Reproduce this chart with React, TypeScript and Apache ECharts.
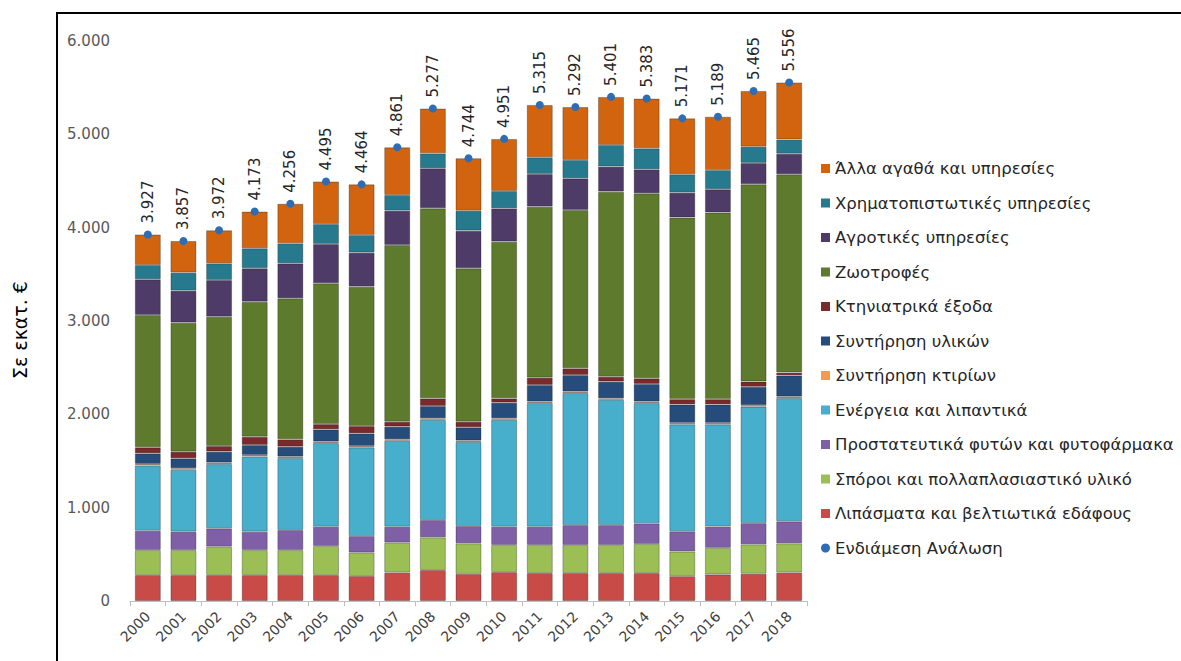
import React, { useEffect, useRef } from "react";
import * as echarts from "echarts";

const years = ["2000","2001","2002","2003","2004","2005","2006","2007","2008","2009","2010","2011","2012","2013","2014","2015","2016","2017","2018"];

const fertilizers = [279, 279, 279, 279, 279, 279, 268, 304, 332, 290, 310, 300, 300, 300, 300, 266, 285, 292, 304];
const seeds = [267, 267, 303, 267, 267, 310, 250, 321, 350, 328, 290, 300, 300, 300, 311, 265, 284, 315, 314];
const protection = [207, 197, 197, 197, 215, 207, 178, 171, 186, 186, 196, 196, 214, 214, 221, 216, 228, 228, 236];
const energy = [700, 664, 688, 806, 770, 896, 950, 921, 1074, 899, 1146, 1325, 1414, 1342, 1289, 1146, 1096, 1248, 1320];
const buildings = [15, 15, 15, 15, 15, 15, 15, 15, 15, 15, 15, 15, 15, 15, 15, 15, 15, 15, 15];
const materials = [114, 107, 118, 107, 107, 132, 135, 136, 132, 143, 168, 178, 178, 179, 189, 198, 198, 197, 228];
const veterinary = [65, 71, 61, 90, 79, 57, 79, 53, 82, 60, 46, 79, 72, 53, 61, 57, 57, 57, 30];
const feed = [1417, 1382, 1385, 1446, 1511, 1508, 1493, 1893, 2036, 1643, 1679, 1832, 1696, 1983, 1982, 1946, 1999, 2114, 2125];
const agriServices = [383, 343, 393, 357, 375, 421, 364, 368, 429, 404, 357, 350, 340, 268, 257, 266, 250, 227, 220];
const financial = [153, 193, 179, 215, 214, 214, 189, 168, 160, 214, 186, 179, 196, 232, 225, 197, 205, 175, 152];
const other = [327, 339, 354, 394, 424, 456, 543, 511, 481, 562, 558, 561, 567, 515, 533, 599, 572, 597, 612];
const totals = [3927, 3857, 3972, 4173, 4256, 4495, 4464, 4861, 5277, 4744, 4951, 5315, 5292, 5401, 5383, 5171, 5189, 5465, 5556];

const yTicks = [0, 1000, 2000, 3000, 4000, 5000, 6000];

const barSeries = [
  { name: "Λιπάσματα και βελτιωτικά εδάφους", data: fertilizers, color: "#C94B48" },
  { name: "Σπόροι και πολλαπλασιαστικό υλικό", data: seeds, color: "#9BBF55" },
  { name: "Προστατευτικά φυτών και φυτοφάρμακα", data: protection, color: "#7F60A6" },
  { name: "Ενέργεια και λιπαντικά", data: energy, color: "#47AECC" },
  { name: "Συντήρηση κτιρίων", data: buildings, color: "#F39A55" },
  { name: "Συντήρηση υλικών", data: materials, color: "#264C7C" },
  { name: "Κτηνιατρικά έξοδα", data: veterinary, color: "#7A2A2A" },
  { name: "Ζωοτροφές", data: feed, color: "#5E7A2C" },
  { name: "Αγροτικές υπηρεσίες", data: agriServices, color: "#4E3B68" },
  { name: "Χρηματοπιστωτικές υπηρεσίες", data: financial, color: "#277A8E" },
  { name: "Άλλα αγαθά και υπηρεσίες", data: other, color: "#D2640F" },
];
const totalName = "Ενδιάμεση Ανάλωση";

const fmt = (v: number) => String(v).replace(/\B(?=(\d{3})+(?!\d))/g, ".");

export default function App() {
  const ref = useRef<HTMLDivElement>(null);
  useEffect(() => {
    if (!ref.current) return;
    const chart = echarts.init(ref.current, null, { renderer: "svg" });
    const font = "'DejaVu Sans', sans-serif";
    const legendData = [
      ...barSeries.slice().reverse().map((s) => ({ name: s.name, icon: "rect" })),
      { name: totalName, icon: "circle" },
    ];
    chart.setOption({
      animation: false,
      backgroundColor: "#ffffff",
      textStyle: { fontFamily: font },
      grid: { left: 130, right: 374, top: 41, bottom: 60, containLabel: false },
      legend: {
        orient: "vertical",
        left: 816,
        top: 155,
        itemWidth: 9,
        itemHeight: 9,
        itemGap: 17.5,
        itemStyle: { borderWidth: 0 },
        textStyle: { fontSize: 16.5, color: "#262626", fontFamily: font },
        data: legendData,
      },
      xAxis: {
        type: "category",
        data: years,
        axisLine: { lineStyle: { color: "#BFBFBF" } },
        axisTick: { show: true, length: 5, lineStyle: { color: "#BFBFBF" } },
        axisLabel: { rotate: 45, color: "#404040", fontSize: 14, margin: 13, fontFamily: font },
      },
      yAxis: {
        type: "value",
        min: 0,
        max: 6000,
        interval: 1000,
        splitLine: { show: false },
        axisLine: { show: false },
        axisTick: { show: false },
        axisLabel: {
          color: "#595959",
          fontSize: 15,
          margin: 20,
          fontFamily: font,
          formatter: (v: number) => (yTicks.includes(v) ? fmt(v) : ""),
        },
      },
      series: [
        ...barSeries.map((s) => ({
          name: s.name,
          type: "bar",
          stack: "total",
          barWidth: 26,
          data: s.data,
          itemStyle: { color: s.color, borderColor: "rgba(0,0,0,0.28)", borderWidth: 1 },
        })),
        {
          name: totalName,
          type: "line",
          data: totals,
          symbol: "circle",
          symbolSize: 8,
          lineStyle: { width: 0, opacity: 0 },
          itemStyle: { color: "#2E6DB4" },
          z: 10,
          label: {
            show: true,
            position: "top",
            rotate: 90,
            align: "left",
            verticalAlign: "middle",
            distance: 7,
            fontSize: 15,
            color: "#262626",
            fontFamily: font,
            formatter: (p: any) => fmt(p.value),
          },
        },
      ],
      graphic: [
        {
          type: "rect",
          shape: { x: 57, y: 13, width: 1200, height: 700 },
          style: { fill: "none", stroke: "#000", lineWidth: 2 },
          silent: true,
        },
        {
          type: "text",
          x: 20,
          y: 330,
          rotation: Math.PI / 2,
          style: {
            text: "Σε εκατ. €",
            fontSize: 19,
            fill: "#000",
            fontFamily: font,
            align: "center",
            verticalAlign: "middle",
          },
        },
      ],
    });
    return () => chart.dispose();
  }, []);
  return <div ref={ref} style={{ width: 1181, height: 661, position: "absolute", left: 0, top: 0 }} />;
}
